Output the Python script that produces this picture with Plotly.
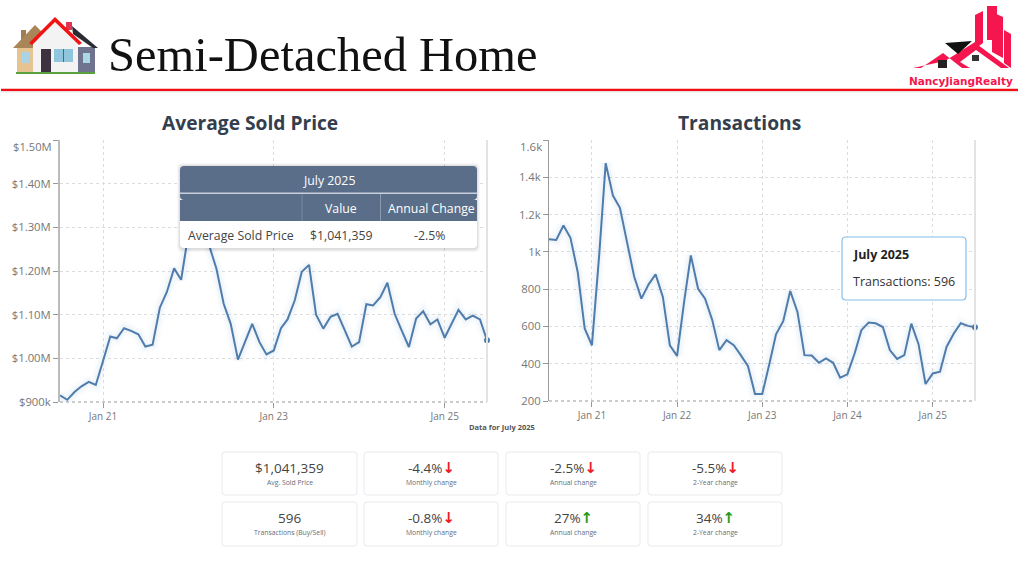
import pandas as pd
import plotly.graph_objects as go

W = 1024
H = 576

months = pd.date_range("2020-07-01", "2025-07-01", freq="MS")

avg_price = [915, 905, 923, 936, 946, 939, 994, 1050, 1046, 1069, 1063, 1055, 1027, 1031, 1116, 1152,
             1206, 1180, 1285, 1330, 1310, 1259, 1205, 1125, 1079, 997, 1037, 1079, 1037, 1009, 1018,
             1069, 1089, 1133, 1198, 1214, 1100, 1068, 1095, 1102, 1064, 1027, 1037, 1124, 1121, 1140,
             1173, 1102, 1064, 1026, 1091, 1108, 1078, 1089, 1047, 1079, 1111, 1089, 1098, 1089, 1041.359]
transactions = [1068, 1064, 1141, 1075, 892, 589, 499, 981, 1476, 1302, 1236, 1052, 868, 749, 826, 879,
                758, 499, 442, 740, 981, 802, 749, 633, 473, 526, 499, 446, 387, 237, 237, 401, 558, 628,
                790, 678, 446, 444, 405, 428, 405, 325, 343, 455, 580, 621, 617, 597, 473, 426, 446, 615,
                505, 291, 348, 357, 490, 562, 617, 603, 596]

price_ticks = [900, 1000, 1100, 1200, 1300, 1400]
price_labels = ["$900k", "$1.00M", "$1.10M", "$1.20M", "$1.30M", "$1.40M"]
trans_ticks = [200, 400, 600, 800, 1000, 1200, 1400]
trans_labels = ["200", "400", "600", "800", "1k", "1.2k", "1.4k"]

table_header = ["Value", "Annual Change"]
table_row = ["Average Sold Price", "$1,041,359", "-2.5%"]

card_values = ["$1,041,359", "-4.4%", "-2.5%", "-5.5%", "596", "-0.8%", "27%", "34%"]
card_labels = ["Avg. Sold Price", "Monthly change", "Annual change", "2-Year change",
               "Transactions (Buy/Sell)", "Monthly change", "Annual change", "2-Year change"]
card_arrows = ["", "down", "down", "down", "", "down", "up", "up"]

LINE = "#4f7cab"
GRID = "#dddddd"
TICK = "#777777"
FONT = "Open Sans"


def fx(x):
    return x / W


def fy(y):
    return 1 - y / H


def poly(points):
    s = " L ".join(f"{fx(x):.5f},{fy(y):.5f}" for x, y in points)
    return f"M {s} Z"


def rounded(x0, y0, x1, y1, r):
    return (f"M {fx(x0+r):.5f},{fy(y0):.5f} L {fx(x1-r):.5f},{fy(y0):.5f} "
            f"Q {fx(x1):.5f},{fy(y0):.5f} {fx(x1):.5f},{fy(y0+r):.5f} "
            f"L {fx(x1):.5f},{fy(y1-r):.5f} Q {fx(x1):.5f},{fy(y1):.5f} {fx(x1-r):.5f},{fy(y1):.5f} "
            f"L {fx(x0+r):.5f},{fy(y1):.5f} Q {fx(x0):.5f},{fy(y1):.5f} {fx(x0):.5f},{fy(y1-r):.5f} "
            f"L {fx(x0):.5f},{fy(y0+r):.5f} Q {fx(x0):.5f},{fy(y0):.5f} {fx(x0+r):.5f},{fy(y0):.5f} Z")


shapes = []
notes = []


def add_path(path, fill="rgba(0,0,0,0)", color="rgba(0,0,0,0)", width=0, dash=None):
    line = dict(color=color, width=width)
    if dash:
        line["dash"] = dash
    shapes.append(dict(type="path", xref="paper", yref="paper", path=path, fillcolor=fill, line=line))


def add_rect(x0, y0, x1, y1, fill):
    add_path(poly([(x0, y0), (x1, y0), (x1, y1), (x0, y1)]), fill=fill)


def add_line(x0, y0, x1, y1, color, width=1, dash=None):
    line = dict(color=color, width=width)
    if dash:
        line["dash"] = dash
    shapes.append(dict(type="line", xref="paper", yref="paper", x0=fx(x0), y0=fy(y0), x1=fx(x1), y1=fy(y1), line=line))


def add_text(x, y, text, size, color="#444444", anchor="center", family=FONT):
    notes.append(dict(xref="paper", yref="paper", x=fx(x), y=fy(y), text=text, showarrow=False,
                      xanchor=anchor, yanchor="middle", borderpad=0,
                      font=dict(size=size, color=color, family=family)))


fig = go.Figure()

# soft glow under the lines, then the line itself and the end dot
for xa, ya, values in [("x", "y", avg_price), ("x2", "y2", transactions)]:
    for glow_w, glow_a in [(14, 0.025), (10, 0.035), (6, 0.05)]:
        fig.add_trace(go.Scatter(x=months, y=values, xaxis=xa, yaxis=ya, mode="lines", hoverinfo="skip",
                                 line=dict(color=f"rgba(110,160,210,{glow_a})", width=glow_w)))
    fig.add_trace(go.Scatter(x=months, y=values, xaxis=xa, yaxis=ya, mode="lines", line=dict(color=LINE, width=2)))
    fig.add_trace(go.Scatter(x=months[-1:], y=values[-1:], xaxis=xa, yaxis=ya, mode="markers", cliponaxis=False,
                             marker=dict(color=LINE, size=6)))

# header: house icon, title, logo, red rule
add_rect(17, 48, 33, 73, "#e6c491")
add_rect(21, 52, 29, 63, "#a9d3e6")
add_rect(21, 30, 26, 40, "#a07c55")
add_path(poly([(13, 48), (35, 25), (42, 32), (33, 48)]), fill="#a98558")
add_rect(78, 47, 95, 73, "#70748f")
add_rect(83, 53, 90, 63, "#a9d8e6")
add_path(poly([(72, 26), (98, 48), (93, 48), (73, 34)]), fill="#2b2b33")
add_rect(66, 22, 72, 30, "#e23350")
add_path(poly([(33, 44), (55, 22), (78, 44), (78, 73), (33, 73)]), fill="#f3f3f3")
add_rect(41, 49, 51, 73, "#3c3240")
add_rect(54, 49, 73, 62, "#8fc6de")
add_line(63.5, 49, 63.5, 62, "#4d6a7a", 1)
add_path(poly([(29, 43), (55, 17), (82, 43), (79, 45), (55, 22), (32, 45)]), fill="#f01414")
add_rect(16, 72, 95, 74, "#5aa040")
add_text(107, 54, "Semi-Detached Home", 48.5, color="#111111", anchor="left", family="Liberation Serif")

PINK = "#f5164f"
add_path(poly([(975, 15), (983, 11), (983, 43), (975, 49)]), fill=PINK)
add_path(poly([(987, 6), (997, 6), (997, 40), (987, 40)]), fill=PINK)
add_path(poly([(992, 12), (1003, 17), (1003, 58), (992, 52)]), fill=PINK)
add_path(poly([(1004, 30), (1011, 34), (1011, 68), (1004, 63)]), fill=PINK)
add_path(poly([(945, 61), (975, 42), (978, 45), (1009, 68), (1001, 68), (976, 50), (960, 62), (970, 68),
               (962, 68), (943, 53), (921, 68), (913, 68)]), fill=PINK)
add_path(poly([(945, 43), (972, 41), (958, 54)]), fill="#111111")
add_rect(938, 60, 947, 68, "#222222")
add_rect(972, 55, 979, 61, "#333333")
add_text(961, 81, "<b>NancyJiangRealty</b>", 10.5, color=PINK, family="DejaVu Sans")

add_rect(1, 88.7, 1018, 91.3, "#f00f14")
add_rect(1, 91.3, 1018, 92.5, "#e8e8e8")

# chart titles and tick labels pushed inside the plot top
add_text(250, 122, "<b>Average Sold Price</b>", 19.2, color="#333e4e")
add_text(739, 122, "<b>Transactions</b>", 19.2, color="#333e4e")
add_text(53, 146, "$1.50M", 11.2, color=TICK, anchor="right")
add_text(543, 146, "1.6k", 11.5, color=TICK, anchor="right")
add_text(502, 427, "<b>Data for July 2025</b>", 7.5, color="#555555")

# bottom axis dashes and right end lines
add_line(60, 402, 487, 402, "#999999", 1, "3px,3px")
add_line(549, 401, 975, 401, "#999999", 1, "3px,3px")
add_line(487, 140, 487, 402, "#e3e3e3", 2)
add_line(975, 140, 975, 401, "#e3e3e3", 2)

# table tooltip over the left chart
for grow, alpha in [(3, 0.03), (2, 0.04), (1, 0.06)]:
    add_path(rounded(180 - grow, 166 - grow, 477 + grow, 248 + grow + 1, 5), fill=f"rgba(0,0,0,{alpha})")
add_path(rounded(180, 166, 477, 248, 4), fill="#ffffff")
add_path(rounded(180, 166, 477, 200, 4), fill="#5a6e89")
add_rect(180, 200, 477, 221, "#5a6e89")
add_rect(180, 192.5, 477, 194, "#c7d0dc")
add_line(302, 194, 302, 221, "#75879e", 1)
add_line(380.5, 194, 380.5, 221, "#8b9aae", 1)
add_text(328.5, 180, "July 2025", 12.3, color="#ffffff")
add_text(341, 208, table_header[0], 12.3, color="#ffffff")
add_text(431.5, 208, table_header[1], 12.3, color="#ffffff")
add_text(241, 235, table_row[0], 12.3, color="#444444")
add_text(341, 235, table_row[1], 12.3, color="#444444")
add_text(429, 235, table_row[2], 12.3, color="#444444")

# tooltip over the right chart
add_path(rounded(842, 237, 966, 300, 4), fill="#ffffff", color="#85bde8", width=1.2)
add_text(852, 255, "<b>July 2025</b>", 12.5, color="#222222", anchor="left")
add_text(852, 281, "Transactions: 596", 12.5, color="#333333", anchor="left")

# stat cards
card_x = [(222, 357), (364, 498), (506, 640), (648, 782)]
card_y = [(452, 495), (502, 546)]
for i, (val, lab, arrow) in enumerate(zip(card_values, card_labels, card_arrows)):
    x0, x1 = card_x[i % 4]
    y0, y1 = card_y[i // 4]
    add_path(rounded(x0, y0, x1, y1, 3), fill="#ffffff", color="#e6eaee", width=1)
    mark = ""
    if arrow == "down":
        mark = "<span style='color:#ee1c25;font-size:15px;font-family:DejaVu Sans'><b>↓</b></span>"
    elif arrow == "up":
        mark = "<span style='color:#1e9c1e;font-size:15px;font-family:DejaVu Sans'><b>↑</b></span>"
    add_text((x0 + x1) / 2, y0 + 16, val + mark, 13.5, color="#444444")
    add_text((x0 + x1) / 2, y0 + 30, lab, 6.8, color="#666e78")

axis_y = dict(showgrid=True, gridcolor=GRID, griddash="3px,3px", gridwidth=1, showline=True, zeroline=False,
              automargin=False, ticks="outside", ticklen=5, tickcolor="#999999",
              tickfont=dict(size=11.3, color=TICK, family=FONT))
axis_x = dict(showgrid=True, gridcolor=GRID, griddash="3px,3px", gridwidth=1, showline=False, zeroline=False,
              automargin=False, ticks="outside", ticklen=5, tickcolor="#999999", tickformat="%b %y",
              tickfont=dict(size=10, color=TICK, family=FONT))

fig.update_layout(
    width=W,
    height=H,
    margin=dict(l=0, r=0, t=0, b=0),
    paper_bgcolor="white",
    plot_bgcolor="white",
    showlegend=False,
    font=dict(family=FONT),
    xaxis=dict(axis_x, domain=[fx(60), fx(487)], anchor="y", range=[months[0], months[-1]],
               tickvals=[pd.Timestamp(y, 1, 1) for y in (2021, 2023, 2025)]),
    yaxis=dict(axis_y, domain=[fy(402), fy(140)], anchor="x", range=[900, 1500], linecolor="#bbbbbb", linewidth=2,
               tickvals=price_ticks + [1500], ticktext=price_labels + [" "]),
    xaxis2=dict(axis_x, domain=[fx(549), fx(975)], anchor="y2", range=[months[0], months[-1]],
                tickvals=[pd.Timestamp(y, 1, 1) for y in (2021, 2022, 2023, 2024, 2025)]),
    yaxis2=dict(axis_y, domain=[fy(401), fy(140)], anchor="x2", range=[200, 1600], linecolor="#999999", linewidth=1,
                tickvals=trans_ticks + [1600], ticktext=trans_labels + [" "]),
    shapes=shapes,
    annotations=notes,
)

fig.write_html("out.html", config=dict(displayModeBar=False), post_script="document.body.style.margin='0';")
